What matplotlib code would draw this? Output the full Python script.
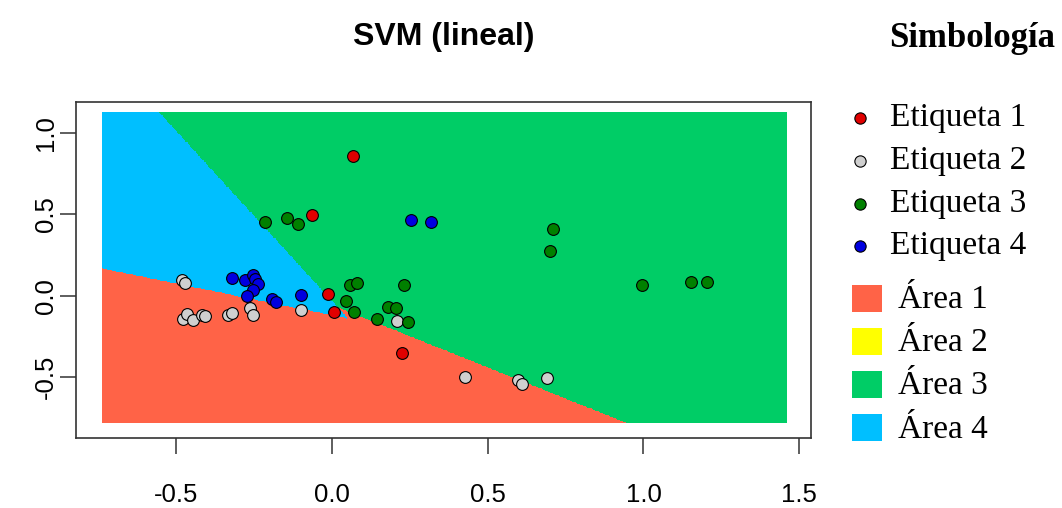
import numpy as np
import matplotlib
matplotlib.use('agg')
import matplotlib.pyplot as plt
from matplotlib.colors import ListedColormap
from matplotlib.patches import Rectangle

# puntos por etiqueta (x, y)
red_x = [0.068, -0.064, -0.012, 0.006, 0.225]
red_y = [0.859, 0.495, 0.009, -0.102, -0.353]

grey_x = [-0.483, -0.472, -0.478, -0.464, -0.445, -0.417, -0.408, -0.333, -0.322,
          -0.263, -0.254, -0.100, 0.208, 0.427, 0.598, 0.609, 0.689]
grey_y = [0.096, 0.076, -0.143, -0.111, -0.147, -0.120, -0.123, -0.118, -0.108,
          -0.075, -0.117, -0.088, -0.155, -0.497, -0.517, -0.542, -0.507]

green_x = [-0.215, -0.145, -0.110, 0.059, 0.079, 0.045, 0.070, 0.144, 0.179,
           0.206, 0.232, 0.243, 0.711, 0.700, 0.996, 1.152, 1.203]
green_y = [0.452, 0.475, 0.439, 0.066, 0.080, -0.031, -0.098, -0.141, -0.067,
           -0.077, 0.067, -0.164, 0.407, 0.274, 0.066, 0.086, 0.086]

blue_x = [-0.320, -0.279, -0.255, -0.247, -0.237, -0.254, -0.274, -0.194, -0.179,
          -0.100, 0.254, 0.317]
blue_y = [0.110, 0.099, 0.125, 0.102, 0.072, 0.033, -0.001, -0.018, -0.036,
          0.004, 0.464, 0.452]

# fronteras de decision (pares uno contra uno), cada una por dos puntos
line_rb = [(-0.7396, 0.1638), (0.0491, -0.1429)]   # area 1 / area 4
line_bg = [(-0.5578, 1.1215), (0.0491, -0.1429)]   # area 4 / area 3
line_rg = [(0.1541, -0.1798), (0.9409, -0.7810)]   # area 1 / area 3
grid_x = (-0.7395, 1.457)
grid_y = (-0.781, 1.121)

x_ticks = [-0.5, 0.0, 0.5, 1.0, 1.5]
x_labels = ['-0.5', '0.0', '0.5', '1.0', '1.5']
y_ticks = [-0.5, 0.0, 0.5, 1.0]
y_labels = ['-0.5', '0.0', '0.5', '1.0']

point_labels = ['Etiqueta 1', 'Etiqueta 2', 'Etiqueta 3', 'Etiqueta 4']
area_labels = ['Área 1', 'Área 2', 'Área 3', 'Área 4']
point_colors = ['#E00000', '#CFCFCF', '#008000', '#0000E0']
area_colors = ['#FF6347', '#FFFF00', '#00CD66', '#00BFFF']


def side(line, X, Y):
    (x1, y1), (x2, y2) = line
    return (x2 - x1) * (Y - y1) - (y2 - y1) * (X - x1)


gx = np.linspace(grid_x[0], grid_x[1], 600)
gy = np.linspace(grid_y[0], grid_y[1], 450)
X, Y = np.meshgrid(gx, gy)
blue = (side(line_rb, X, Y) > 0) & (side(line_bg, X, Y) < 0)
red = (~blue) & (side(line_rg, X, Y) < 0)
cls = np.full(X.shape, 2)
cls[red] = 0
cls[blue] = 3

fig = plt.figure(figsize=(10.62, 5.08), dpi=100)
ax = fig.add_axes([76 / 1062, 1 - 438 / 508, (811 - 76) / 1062, (438 - 101.7) / 508])

ax.imshow(cls, extent=(grid_x[0], grid_x[1], grid_y[0], grid_y[1]), origin='lower',
          cmap=ListedColormap(area_colors), vmin=-0.5, vmax=3.5,
          aspect='auto', interpolation='nearest')

for xs, ys, c in [(red_x, red_y, point_colors[0]), (grey_x, grey_y, point_colors[1]),
                  (green_x, green_y, point_colors[2]), (blue_x, blue_y, point_colors[3])]:
    ax.scatter(xs, ys, s=72, c=c, edgecolors='black', linewidths=0.8, zorder=3)

ax.set_xlim(-0.822, 1.538)
ax.set_ylim(-0.873, 1.190)
ax.set_xticks(x_ticks)
ax.set_xticklabels(x_labels, fontsize=18.5, family='Liberation Sans')
ax.set_yticks(y_ticks)
ax.set_yticklabels(y_labels, fontsize=18.5, family='Liberation Sans', rotation=90, va='center')
ax.tick_params(axis='both', direction='out', length=11.5, width=1.1, color='#333333')
ax.tick_params(axis='x', pad=21)
ax.tick_params(axis='y', pad=1.8)
for sp in ax.spines.values():
    sp.set_color('#333333')
    sp.set_linewidth(1.2)

fig.text(443.5 / 1062, 1 - 45 / 508, 'SVM (lineal)', ha='center', va='baseline',
         fontsize=23, fontweight='bold', family='Liberation Sans')
fig.text(889 / 1062, 1 - 47 / 508, 'Simbología', ha='left', va='baseline',
         fontsize=25, fontweight='bold', family='Liberation Serif')

# leyenda dibujada a mano en coordenadas de pixel
leg = fig.add_axes([0, 0, 1, 1])
leg.set_xlim(0, 1062)
leg.set_ylim(508, 0)
leg.axis('off')
leg.patch.set_visible(False)

for i, (lab, c) in enumerate(zip(point_labels, point_colors)):
    yc = 118.3 + i * 42.7
    leg.scatter([860], [yc], s=66, c=c, edgecolors='black', linewidths=0.8)
    leg.text(890, yc + 8, lab, ha='left', va='baseline', fontsize=24, family='Liberation Serif')

for i, (lab, c) in enumerate(zip(area_labels, area_colors)):
    yc = 298 + i * 43.2
    leg.add_patch(Rectangle((852, yc - 13.5), 30, 27, facecolor=c, edgecolor='none'))
    leg.text(898, yc + 10, lab, ha='left', va='baseline', fontsize=24, family='Liberation Serif')

plt.savefig('out.png', dpi=100)
